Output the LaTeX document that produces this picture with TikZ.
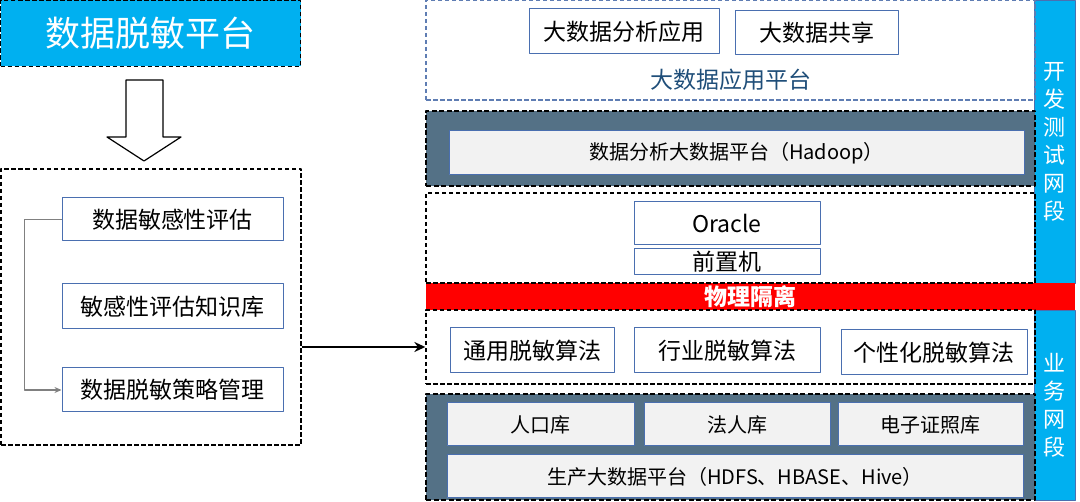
\documentclass[tikz,border=0pt]{standalone}
\usepackage{fontspec}
\setmainfont{Noto Sans CJK SC}
\usetikzlibrary{arrows.meta}
\definecolor{skyblue}{HTML}{00B0F0}
\definecolor{boxblue}{HTML}{4A6FB0}
\definecolor{dashblue}{HTML}{5F7DB3}
\definecolor{labelblue}{HTML}{1F4E79}
\definecolor{slate}{HTML}{547186}
\definecolor{paper}{HTML}{F2F2F2}
\begin{document}
\begin{tikzpicture}[x=1pt,y=-1pt,line join=round,>={Stealth[length=7pt,width=6pt]},
	zone/.style={draw=black,line width=1.3pt,dash pattern=on 4.5pt off 2.5pt},
	darkzone/.style={draw=black,fill=slate,line width=2pt,dash pattern=on 5pt off 2.5pt},
	itembox/.style={draw=boxblue,fill=white,line width=1pt,inner sep=0pt,font=\fontsize{23}{27}\selectfont},
	innerbox/.style={draw=boxblue,fill=paper,line width=1pt,inner sep=0pt,font=\fontsize{20}{24}\selectfont},
	sidebar/.style={draw=boxblue,fill=skyblue,line width=0.8pt,text=white,inner sep=0pt,minimum width=41,
		align=center,font=\fontsize{22}{28}\selectfont}]
	\useasboundingbox (0,0) rectangle (1080,502);
	% left part
	\node[zone,fill=skyblue,text=white,minimum width=300,minimum height=66,font=\fontsize{35}{40}\selectfont]
		(title) at (150.5,33.5) {数据脱敏平台};
	\path
	(126,80) coordinate (S1)
	(163,80) coordinate (S2)
	(163,137) coordinate (S3)
	(181,137) coordinate (S4)
	(144,161) coordinate (T)
	(107,137) coordinate (S5)
	(126,137) coordinate (S6)
	;
	\draw[line width=1.2pt,fill=white] (S1)--(S2)--(S3)--(S4)--(T)--(S5)--(S6)--cycle;
	\node[zone,minimum width=300,minimum height=276] (policy) at (151,307) {};
	\node[itembox,minimum width=221,minimum height=43] (assess) at (172.5,219.5) {数据敏感性评估};
	\node[itembox,minimum width=221,minimum height=45] (know) at (172.5,306.5) {敏感性评估知识库};
	\node[itembox,minimum width=221,minimum height=44] (strategy) at (172.5,390) {数据脱敏策略管理};
	\draw[gray,line width=1.2pt,->] (assess.west)--++(-37,0)|-(strategy.west);
	% right part
	\node[sidebar,minimum height=283] (devnet) at (1054.5,141.5) {开\\发\\测\\试\\网\\段};
	\node[sidebar,minimum height=190] (busnet) at (1054.5,405) {业\\务\\网\\段};
	\node[fill=red,text=white,inner sep=0pt,minimum width=649,minimum height=27,
		font=\fontsize{23}{27}\selectfont\bfseries] (gap) at (750.5,296.5) {物理隔离};
	\node[zone,draw=dashblue,minimum width=609,minimum height=100] (appzone) at (730.5,50) {};
	\node[itembox,minimum width=190,minimum height=45] (bigA) at (624,31.5) {大数据分析应用};
	\node[itembox,minimum width=163,minimum height=44] (bigS) at (816.5,33) {大数据共享};
	\node[text=labelblue,font=\fontsize{23}{27}\selectfont] (applabel) at (731,80) {大数据应用平台};
	\node[darkzone,minimum width=609,minimum height=75] (hadzone) at (730.5,148.5) {};
	\node[innerbox,minimum width=575,minimum height=44] (hadoop) at (736.5,153) {数据分析大数据平台（Hadoop）};
	\node[zone,minimum width=609,minimum height=90] (frontzone) at (730.5,238) {};
	\node[itembox,minimum width=186,minimum height=43] (oracle) at (727,223.5) {Oracle};
	\node[itembox,minimum width=186,minimum height=26] (front) at (727,262) {前置机};
	\node[zone,minimum width=609,minimum height=74] (algzone) at (730.5,347) {};
	\node[itembox,minimum width=164,minimum height=45] (algA) at (532,350.5) {通用脱敏算法};
	\node[itembox,minimum width=186,minimum height=45] (algB) at (727,350.5) {行业脱敏算法};
	\node[itembox,minimum width=186,minimum height=45] (algC) at (934,352.5) {个性化脱敏算法};
	\node[darkzone,minimum width=609,minimum height=106] (prodzone) at (730.5,447) {};
	\node[innerbox,minimum width=187,minimum height=43] (dbA) at (540.5,424.5) {人口库};
	\node[innerbox,minimum width=186,minimum height=43] (dbB) at (737,424.5) {法人库};
	\node[innerbox,minimum width=185,minimum height=43] (dbC) at (930.5,424.5) {电子证照库};
	\node[innerbox,minimum width=576,minimum height=43] (prod) at (735,476.5) {生产大数据平台（HDFS、HBASE、Hive）};
	\draw[line width=2.5pt,-{Stealth[length=11pt,width=10pt]}] (policy.east|-algzone.west)--(algzone.west);
\end{tikzpicture}
\end{document}
